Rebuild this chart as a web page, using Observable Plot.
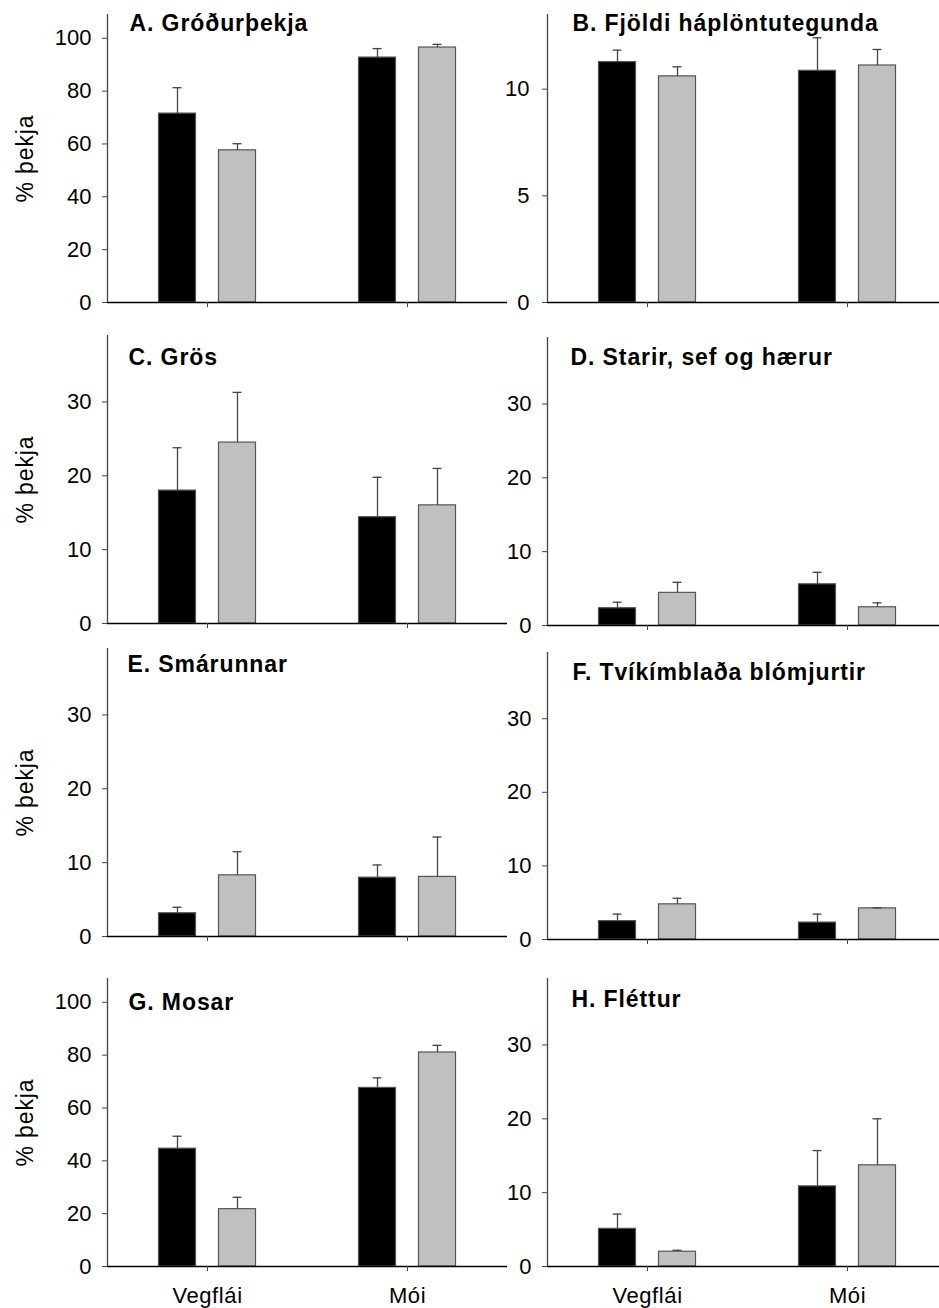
<!DOCTYPE html>
<html>
<head>
<meta charset="utf-8">
<script src="https://cdn.jsdelivr.net/npm/d3@7"></script>
<script src="https://cdn.jsdelivr.net/npm/@observablehq/plot@0.6"></script>
<style>
  html, body { margin: 0; padding: 0; background: #fff; overflow: hidden; }
  #chart { position: relative; width: 939px; height: 1308px; }
  #chart svg { position: absolute; }
  #chart g[aria-label="text"] text { letter-spacing: 0.9px; }
  #chart g[aria-label="x-axis tick label"] text { letter-spacing: 0.6px; }
</style>
</head>
<body>
<div id="chart"></div>
<script>
// Sites on the x axis and the two treatments (dark / light bars)
const groups = ["Vegflái", "Mói"];
const series = ["dökkt", "ljóst"];
const seriesColors = ["#000000", "#c0c0c0"];

// Tick values
const ticksPercent = [0, 20, 40, 60, 80, 100];
const ticksSpecies = [0, 5, 10];
const ticksCover = [0, 10, 20, 30];

// Panel titles
const titles = [
  "A. Gróðurþekja",
  "B. Fjöldi háplöntutegunda",
  "C. Grös",
  "D. Starir, sef og hærur",
  "E. Smárunnar",
  "F. Tvíkímblaða blómjurtir",
  "G. Mosar",
  "H. Fléttur"
];
const yLabel = "% þekja";

// Means, ordered: Vegflái dökkt, Vegflái ljóst, Mói dökkt, Mói ljóst
const meanA = [71.5, 57.6, 92.7, 96.5];
const meanB = [11.27, 10.6, 10.86, 11.11];
const meanC = [18.0, 24.5, 14.4, 16.0];
const meanD = [2.34, 4.42, 5.58, 2.47];
const meanE = [3.15, 8.28, 7.97, 8.07];
const meanF = [2.5, 4.78, 2.3, 4.23];
const meanG = [44.6, 21.7, 67.6, 81.0];
const meanH = [5.1, 2.0, 10.85, 13.7];

// Standard errors, same order
const seA = [9.8, 2.5, 3.4, 1.2];
const seB = [0.56, 0.45, 1.55, 0.75];
const seC = [5.8, 6.8, 5.4, 5.0];
const seD = [0.81, 1.43, 1.62, 0.6];
const seE = [0.81, 3.2, 1.72, 5.4];
const seF = [0.95, 0.82, 1.15, 0.07];
const seG = [4.7, 4.5, 3.8, 2.7];
const seH = [2.0, 0.2, 4.85, 6.3];

const font = "'Liberation Sans', Arial, Helvetica, sans-serif";
const chart = document.getElementById("chart");

// Layout of each panel: svg left, plot top, plot bottom (zero line)
const panels = [
  {title: titles[0], mean: meanA, se: seA, max: 109, ticks: ticksPercent, left: 0,   top: 14,  zero: 302,  yLab: true,  xLab: false, tdx: 22, tdy: 0,  pad: 11},
  {title: titles[1], mean: meanB, se: seB, max: 13.5, ticks: ticksSpecies, left: 440, top: 14,  zero: 302,  yLab: false, xLab: false, tdx: 25, tdy: 0,  pad: 13},
  {title: titles[2], mean: meanC, se: seC, max: 39, ticks: ticksCover,   left: 0,   top: 335, zero: 623,  yLab: true,  xLab: false, tdx: 21, tdy: 13, pad: 11},
  {title: titles[3], mean: meanD, se: seD, max: 39, ticks: ticksCover,   left: 440, top: 337, zero: 625,  yLab: false, xLab: false, tdx: 23, tdy: 11, pad: 11},
  {title: titles[4], mean: meanE, se: seE, max: 39, ticks: ticksCover,   left: 0,   top: 648, zero: 936,  yLab: true,  xLab: false, tdx: 20, tdy: 7,  pad: 11},
  {title: titles[5], mean: meanF, se: seF, max: 39, ticks: ticksCover,   left: 440, top: 652, zero: 939,  yLab: false, xLab: false, tdx: 25, tdy: 11, pad: 11},
  {title: titles[6], mean: meanG, se: seG, max: 109, ticks: ticksPercent, left: 0,   top: 978, zero: 1266, yLab: true,  xLab: true,  tdx: 21, tdy: 15, pad: 11},
  {title: titles[7], mean: meanH, se: seH, max: 39, ticks: ticksCover,   left: 440, top: 978, zero: 1266, yLab: false, xLab: true,  tdx: 24, tdy: 12, pad: 11}
];

const offsets = [-30, 30];   // bar offsets within each site band
const barInset = 81.5;       // leaves 37px wide bars in a 200px band
const capInset = 95.5;       // error-bar caps about 9px wide

for (const p of panels) {
  const rows = groups.flatMap((g, i) => series.map((s, j) => ({
    group: g, series: s, value: p.mean[i * 2 + j], se: p.se[i * 2 + j]
  })));
  const mt = 10, mb = p.xLab ? 46 : 12;
  const marks = [];

  series.forEach((s, j) => {
    const d = rows.filter(r => r.series === s);
    marks.push(Plot.barY(d, {
      x: "group", y: "value", fill: seriesColors[j],
      stroke: "#555", strokeWidth: 1.2,
      insetLeft: barInset, insetRight: barInset, dx: offsets[j]
    }));
    marks.push(Plot.ruleX(d, {
      x: "group", y1: "value", y2: r => r.value + r.se,
      stroke: "#444", strokeWidth: 1.3, dx: offsets[j]
    }));
    marks.push(Plot.tickY(d, {
      x: "group", y: r => r.value + r.se,
      stroke: "#444", strokeWidth: 1.3, dx: offsets[j],
      insetLeft: capInset, insetRight: capInset
    }));
  });

  // axis lines
  marks.push(Plot.ruleY([0], {stroke: "#000", strokeWidth: 1.3}));
  marks.push(Plot.ruleX([groups[0]], {dx: -100, stroke: "#444", strokeWidth: 1.3}));

  marks.push(Plot.axisY({
    ticks: p.ticks, tickSize: 5, tickPadding: p.pad, fontSize: 22,
    label: null, stroke: "#444", fill: "#000", tickFormat: d => String(d)
  }));
  marks.push(Plot.axisX({
    tickSize: 5, tickPadding: 16, fontSize: 22, label: null,
    stroke: "#444", fill: "#000",
    tickFormat: p.xLab ? (d => d) : (() => "")
  }));

  marks.push(Plot.text([p.title], {
    frameAnchor: "top-left", dx: p.tdx, dy: p.tdy, lineAnchor: "top",
    fontSize: 23, fontWeight: "bold", fill: "#000", textAnchor: "start"
  }));

  if (p.yLab) {
    marks.push(Plot.text([yLabel], {
      frameAnchor: "left", dx: -82, rotate: -90,
      fontSize: 23, fill: "#000", textAnchor: "middle", lineAnchor: "middle"
    }));
  }

  const svg = Plot.plot({
    width: 507,
    height: (p.zero - p.top) + mt + mb,
    marginLeft: 107, marginRight: 0, marginTop: mt, marginBottom: mb,
    style: {background: "transparent", maxWidth: "none", overflow: "visible", fontFamily: font, color: "#000"},
    x: {domain: groups, padding: 0},
    y: {domain: [0, p.max]},
    marks
  });
  svg.style.left = p.left + "px";
  svg.style.top = (p.top - mt) + "px";
  chart.appendChild(svg);
}
</script>
</body>
</html>
